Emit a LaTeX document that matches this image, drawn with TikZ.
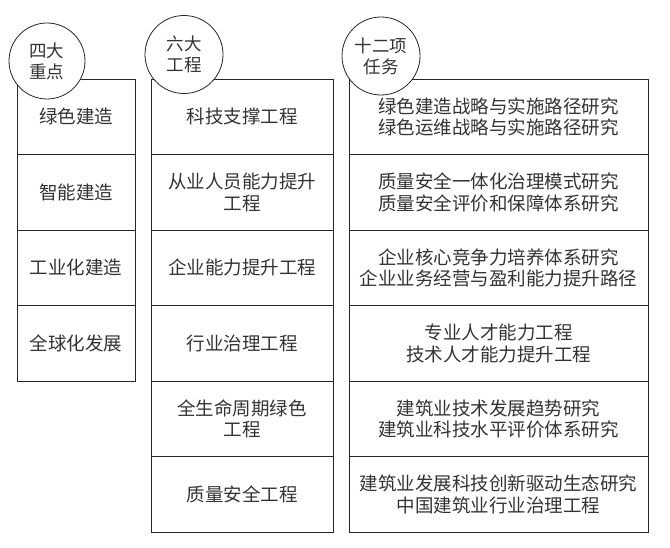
\documentclass[tikz,border=0pt]{standalone}
\usepackage{fontspec}
\setmainfont{Noto Sans CJK SC}
\begin{document}
\begin{tikzpicture}[x=1pt,y=-1pt,
  box/.style={draw=black!85, line width=0.8pt, inner sep=0pt, align=center,
    text=black!80, font=\fontsize{18.5}{21.5}\selectfont, minimum height=75.5pt},
  c1box/.style={box, minimum width=118pt},
  c2box/.style={box, minimum width=182pt},
  c3box/.style={box, minimum width=299pt},
  circ/.style={circle, draw=black!85, line width=0.8pt, fill=white, inner sep=0pt,
    align=center, text=black!80, font=\fontsize{17.5}{21}\selectfont}]
\useasboundingbox (0,0) rectangle (670,548);
% column 1
\node[c1box] (g1) at (76,116.75) {绿色建造};
\node[c1box] (g2) at (76,192.25) {智能建造};
\node[c1box] (g3) at (76,267.75) {工业化建造};
\node[c1box] (g4) at (76,343.25) {全球化发展};
% column 2
\node[c2box] (e1) at (242,116.75) {科技支撑工程};
\node[c2box] (e2) at (242,192.25) {从业人员能力提升\\工程};
\node[c2box] (e3) at (242,267.75) {企业能力提升工程};
\node[c2box] (e4) at (242,343.25) {行业治理工程};
\node[c2box] (e5) at (242,418.75) {全生命周期绿色\\工程};
\node[c2box] (e6) at (242,494.25) {质量安全工程};
% column 3
\node[c3box] (t1) at (498.5,116.75) {绿色建造战略与实施路径研究\\绿色运维战略与实施路径研究};
\node[c3box] (t2) at (498.5,192.25) {质量安全一体化治理模式研究\\质量安全评价和保障体系研究};
\node[c3box] (t3) at (498.5,267.75) {企业核心竞争力培养体系研究\\企业业务经营与盈利能力提升路径};
\node[c3box] (t4) at (498.5,343.25) {专业人才能力工程\\技术人才能力提升工程};
\node[c3box] (t5) at (498.5,418.75) {建筑业技术发展趋势研究\\建筑业科技水平评价体系研究};
\node[c3box] (t6) at (498.5,494.25) {建筑业发展科技创新驱动生态研究\\中国建筑业行业治理工程};
% circles
\node[circ, minimum size=76pt] (c1) at (47,61) {四大\\重点};
\node[circ, minimum size=78pt] (c2) at (184,54.5) {六大\\工程};
\node[circ, minimum size=78pt] (c3) at (381,56) {十二项\\任务};
\end{tikzpicture}
\end{document}
